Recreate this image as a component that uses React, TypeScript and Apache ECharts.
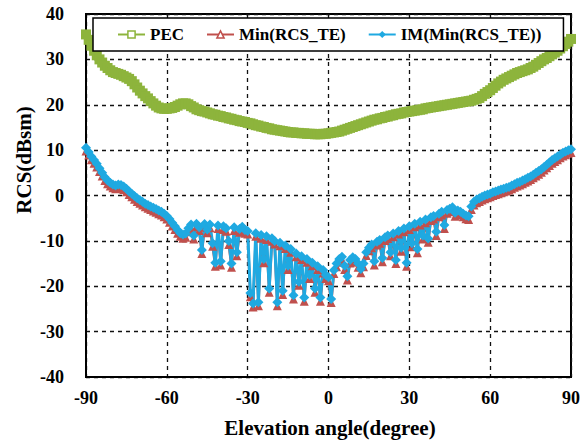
import React, { useEffect, useRef } from "react";
import * as echarts from "echarts";

// Elevation angle axis: first sample and spacing (degrees)
const ANGLE_START = -90;
const ANGLE_STEP = 1;

const X_TICKS = [-90, -60, -30, 0, 30, 60, 90];
const Y_TICKS = [-40, -30, -20, -10, 0, 10, 20, 30, 40];

const SERIES_NAMES = ["PEC", "Min(RCS_TE)", "IM(Min(RCS_TE))"];

// PEC (dBsm), -90..90 step 1
const PEC = [
  35.5, 34.3, 33.0, 31.9, 30.9, 30.0, 29.3, 28.6, 28.1, 27.6,
  27.2, 27.0, 26.8, 26.6, 26.3, 26.0, 25.7, 25.2, 24.5, 23.8,
  23.1, 22.5, 21.9, 21.4, 20.8, 20.3, 19.8, 19.4, 19.2, 19.1,
  19.1, 19.2, 19.3, 19.5, 19.8, 20.1, 20.3, 20.3, 20.1, 19.7,
  19.4, 19.0, 18.8, 18.6, 18.5, 18.3, 18.1, 17.9, 17.8, 17.6,
  17.5, 17.3, 17.2, 17.0, 16.9, 16.7, 16.6, 16.4, 16.3, 16.2,
  16.0, 15.9, 15.7, 15.5, 15.4, 15.2, 15.1, 14.9, 14.8, 14.6,
  14.5, 14.4, 14.3, 14.2, 14.1, 14.0, 13.9, 13.9, 13.8, 13.8,
  13.7, 13.7, 13.6, 13.6, 13.6, 13.5, 13.5, 13.5, 13.6, 13.6,
  13.7, 13.8, 13.9, 14.0, 14.1, 14.3, 14.5, 14.7, 14.9, 15.1,
  15.3, 15.5, 15.7, 15.9, 16.1, 16.3, 16.5, 16.7, 16.8, 17.0,
  17.1, 17.3, 17.4, 17.6, 17.7, 17.9, 18.0, 18.1, 18.3, 18.4,
  18.5, 18.6, 18.7, 18.8, 18.9, 19.0, 19.2, 19.3, 19.4, 19.5,
  19.6, 19.7, 19.8, 19.9, 20.0, 20.1, 20.2, 20.3, 20.4, 20.5,
  20.6, 20.7, 20.8, 20.9, 21.1, 21.3, 21.5, 21.9, 22.4, 22.8,
  23.2, 23.7, 24.2, 24.7, 25.1, 25.5, 25.8, 26.1, 26.4, 26.7,
  27.0, 27.2, 27.4, 27.6, 27.8, 28.1, 28.4, 28.8, 29.2, 29.6,
  30.0, 30.3, 30.7, 31.1, 31.5, 31.9, 32.4, 32.9, 33.4, 33.9,
  34.5,
];

// Min(RCS_TE) (dBsm), -90..90 step 1
const MIN_RCS_TE = [
  9.8, 8.9, 7.9, 7.1, 6.3, 5.3, 4.3, 3.3, 2.6, 2.1,
  1.7, 1.5, 1.7, 1.6, 1.3, 0.8, 0.2, -0.3, -0.8, -1.3,
  -1.7, -2.1, -2.5, -2.8, -3.1, -3.4, -3.7, -4.0, -4.3, -4.7,
  -5.2, -5.9, -6.7, -7.5, -8.3, -9.0, -9.4, -9.2, -8.0, -7.1,
  -9.6, -6.9, -7.7, -12.8, -7.0, -8.2, -7.1, -11.2, -15.6, -7.3,
  -15.3, -7.5, -7.9, -10.8, -15.8, -7.7, -13.3, -8.1, -7.6, -8.3,
  -8.5, -22.3, -24.6, -9.0, -24.3, -9.4, -14.8, -9.7, -21.3, -10.1,
  -10.7, -24.3, -11.1, -21.8, -11.7, -16.3, -12.5, -22.8, -13.5, -19.8,
  -14.1, -23.3, -14.7, -18.3, -15.5, -21.3, -16.3, -23.3, -17.1, -18.3,
  -18.8, -23.6, -17.2, -15.7, -14.7, -14.2, -16.3, -18.6, -14.9, -14.3,
  -14.7, -15.8, -17.0, -15.7, -13.2, -12.2, -11.5, -15.3, -10.9, -10.5,
  -14.6, -9.9, -9.5, -13.3, -9.1, -15.0, -8.5, -12.3, -8.0, -15.6,
  -7.5, -11.3, -6.9, -12.6, -6.5, -9.6, -6.0, -10.3, -5.5, -5.2,
  -8.8, -4.7, -4.3, -7.3, -3.9, -3.6, -3.3, -4.6, -4.0, -4.3,
  -4.7, -5.1, -5.3, -3.1, -2.1, -1.6, -1.3, -1.0, -0.7, -0.5,
  -0.3, 0.0, 0.2, 0.4, 0.6, 0.8, 1.0, 1.2, 1.5, 1.8,
  2.1, 2.3, 2.6, 2.9, 3.2, 3.5, 3.9, 4.3, 4.7, 5.1,
  5.6, 6.1, 6.6, 7.1, 7.5, 7.9, 8.3, 8.7, 9.0, 9.3,
  9.5,
];

// IM(Min(RCS_TE)) (dBsm), -90..90 step 1
const IM_MIN_RCS_TE = [
  10.5, 9.6, 8.6, 7.8, 7.0, 6.0, 5.0, 4.0, 3.3, 2.8,
  2.4, 2.2, 2.4, 2.3, 2.0, 1.5, 0.9, 0.4, -0.1, -0.6,
  -1.0, -1.4, -1.8, -2.1, -2.4, -2.7, -3.0, -3.3, -3.6, -4.0,
  -4.5, -5.2, -6.0, -6.8, -7.6, -8.3, -8.6, -8.4, -7.2, -6.4,
  -8.8, -6.2, -7.0, -12.0, -6.3, -7.5, -6.4, -10.5, -14.8, -6.6,
  -14.5, -6.8, -7.2, -10.0, -15.0, -7.0, -12.5, -7.4, -6.9, -7.6,
  -7.8, -21.5, -23.8, -8.3, -23.5, -8.7, -14.0, -9.0, -20.5, -9.4,
  -10.0, -23.5, -10.4, -21.0, -11.0, -15.5, -11.8, -22.0, -12.8, -19.0,
  -13.4, -22.5, -14.0, -17.5, -14.8, -20.5, -15.6, -22.5, -16.4, -17.5,
  -18.0, -22.8, -16.5, -15.0, -14.0, -13.5, -15.5, -17.8, -14.2, -13.6,
  -14.0, -15.0, -16.2, -15.0, -12.5, -11.5, -10.8, -14.5, -10.2, -9.8,
  -13.8, -9.2, -8.8, -12.5, -8.4, -14.2, -7.8, -11.5, -7.3, -14.8,
  -6.8, -10.5, -6.2, -11.8, -5.8, -8.8, -5.3, -9.5, -4.8, -4.5,
  -8.0, -4.0, -3.6, -6.5, -3.2, -2.9, -2.6, -3.8, -3.3, -3.6,
  -4.0, -4.4, -4.6, -2.4, -1.4, -0.9, -0.6, -0.3, 0.0, 0.2,
  0.4, 0.7, 0.9, 1.1, 1.3, 1.5, 1.7, 1.9, 2.2, 2.5,
  2.8, 3.0, 3.3, 3.6, 3.9, 4.2, 4.6, 5.0, 5.4, 5.8,
  6.3, 6.8, 7.3, 7.8, 8.2, 8.6, 9.0, 9.4, 9.7, 10.0,
  10.2,
];

const GREEN = "#8DB43C";
const RED = "#C0504D";
const BLUE = "#1FA9E1";
const FONT = "'Liberation Serif', 'Times New Roman', serif";

const toPairs = (vals: number[]) =>
  vals.map((v, i) => [ANGLE_START + i * ANGLE_STEP, v]);

export default function App() {
  const ref = useRef<HTMLDivElement>(null);

  useEffect(() => {
    if (!ref.current) return;
    const chart = echarts.init(ref.current, undefined, { renderer: "svg" });
    const tickLabel = {
      fontFamily: FONT,
      fontWeight: "bold" as const,
      fontSize: 18,
      color: "#000",
    };
    const splitLine = {
      show: true,
      lineStyle: { color: "#111", type: [4, 4] as number[], width: 1.3 },
    };
    const option = {
      animation: false,
      backgroundColor: "#fff",
      grid: {
        left: 86,
        right: 15,
        top: 14,
        bottom: 66,
        show: true,
        borderColor: "#000",
        borderWidth: 2,
        backgroundColor: "transparent",
      },
      legend: {
        left: 93,
        top: 18,
        padding: [8, 22, 8, 24],
        itemGap: 22,
        itemWidth: 27,
        itemHeight: 9,
        borderColor: "#000",
        borderWidth: 1.5,
        backgroundColor: "#fff",
        textStyle: { fontFamily: FONT, fontWeight: "bold", fontSize: 17, color: "#000" },
        data: [
          { name: SERIES_NAMES[0], itemStyle: { color: "#fff", borderColor: GREEN, borderWidth: 1.5 } },
          { name: SERIES_NAMES[1], itemStyle: { color: "#fff", borderColor: RED, borderWidth: 1.5 } },
          { name: SERIES_NAMES[2] },
        ],
      },
      xAxis: {
        type: "value",
        min: X_TICKS[0],
        max: X_TICKS[X_TICKS.length - 1],
        interval: 30,
        axisLine: { show: true, onZero: false, lineStyle: { color: "#000", width: 2 } },
        axisTick: { show: false },
        axisLabel: { ...tickLabel, margin: 12 },
        splitLine,
      },
      yAxis: {
        type: "value",
        min: Y_TICKS[0],
        max: Y_TICKS[Y_TICKS.length - 1],
        interval: 10,
        axisLine: { show: true, onZero: false, lineStyle: { color: "#000", width: 2 } },
        axisTick: { show: false },
        axisLabel: { ...tickLabel, margin: 22 },
        splitLine,
      },
      graphic: [
        {
          type: "text",
          x: 330,
          y: 428,
          style: {
            text: "Elevation angle(degree)",
            font: `bold 21px ${FONT}`,
            fill: "#000",
            align: "center",
            verticalAlign: "middle",
            textAlign: "center",
            textVerticalAlign: "middle",
          },
        },
        {
          type: "text",
          x: 24,
          y: 160,
          rotation: Math.PI / 2,
          style: {
            text: "RCS(dBsm)",
            font: `bold 21px ${FONT}`,
            fill: "#000",
            align: "center",
            verticalAlign: "middle",
            textAlign: "center",
            textVerticalAlign: "middle",
          },
        },
      ],
      series: [
        {
          name: SERIES_NAMES[0],
          type: "line",
          data: toPairs(PEC),
          symbol: "rect",
          symbolSize: 10,
          lineStyle: { color: GREEN, width: 3 },
          itemStyle: { color: GREEN },
          clip: false,
        },
        {
          name: SERIES_NAMES[1],
          type: "line",
          data: toPairs(MIN_RCS_TE),
          symbol: "triangle",
          symbolSize: 9,
          lineStyle: { color: RED, width: 2.5 },
          itemStyle: { color: RED },
          clip: false,
        },
        {
          name: SERIES_NAMES[2],
          type: "line",
          data: toPairs(IM_MIN_RCS_TE),
          symbol: "diamond",
          symbolSize: 10,
          lineStyle: { color: BLUE, width: 3 },
          itemStyle: { color: BLUE },
          clip: false,
        },
      ],
    };
    chart.setOption(option as any);
    return () => chart.dispose();
  }, []);

  return (
    <div
      ref={ref}
      style={{ position: "absolute", left: 0, top: 0, width: 586, height: 443 }}
    />
  );
}
